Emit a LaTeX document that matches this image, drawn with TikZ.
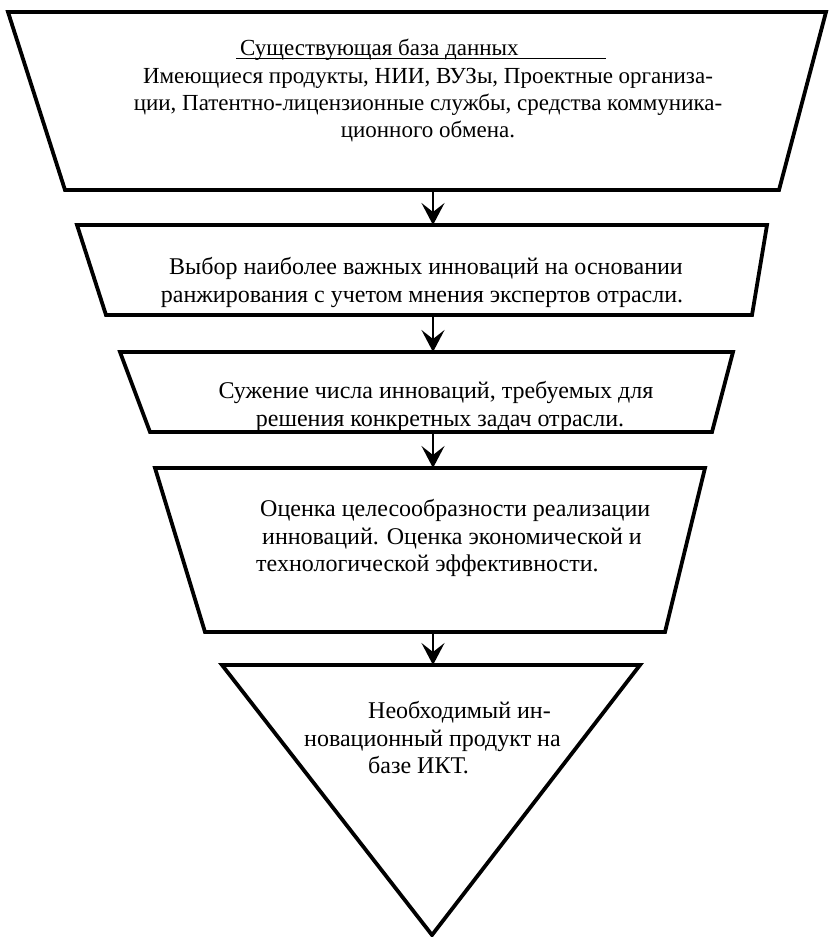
\documentclass[tikz,border=0pt]{standalone}
\usepackage{fontspec}
\setmainfont{Liberation Serif}
\usetikzlibrary{arrows.meta}
\tikzset{
  shapebox/.style={line width=3.8pt, line join=miter},
  flowarrow/.style={line width=2pt, -{Stealth[length=22pt,width=23pt,inset=9pt]}},
  txt/.style={inner sep=0pt, font=\fontsize{24}{27.5}\selectfont, align=center},
  txtl/.style={inner sep=0pt, font=\fontsize{24}{27.5}\selectfont, anchor=base west},
  txtt/.style={inner sep=0pt, font=\fontsize{23}{27.5}\selectfont, anchor=base}
}
\begin{document}
\begin{tikzpicture}[x=1pt,y=-1pt]
\useasboundingbox (0,0) rectangle (828,937);
% shapes
\draw[shapebox] (8,12) -- (826,12) -- (779,190) -- (65,190) -- cycle;
\draw[shapebox] (77,225) -- (767,225) -- (752,315) -- (106,315) -- cycle;
\draw[shapebox] (120,352) -- (733,352) -- (712,432) -- (150,432) -- cycle;
\draw[shapebox] (155,468) -- (705,468) -- (665,632) -- (205,632) -- cycle;
\draw[shapebox] (222,665) -- (640,665) -- (432,935) -- cycle;
% anchor coordinates
\coordinate (b1) at (433,190);
\coordinate (t2) at (433,225);
\coordinate (b2) at (433,315);
\coordinate (t3) at (433,352);
\coordinate (b3) at (433,432);
\coordinate (t4) at (433,468);
\coordinate (b4) at (433,632);
\coordinate (t5) at (433,665);
% connectors
\draw[flowarrow] (b1) -- (t2);
\draw[flowarrow] (b2) -- (t3);
\draw[flowarrow] (b3) -- (t4);
\draw[flowarrow] (b4) -- (t5);
% texts
\node[txtl, font=\fontsize{23}{27.5}\selectfont] (h1) at (240,55) {Существующая база данных};
\draw[line width=1pt] (236,58) -- (606,58);
\node[txtt] (l1) at (428,83) {Имеющиеся продукты, НИИ, ВУЗы, Проектные организа-};
\node[txtt] (l2) at (428,110) {ции, Патентно-лицензионные службы, средства коммуника-};
\node[txtt] (l3) at (428,137) {ционного обмена.};
\node[txt, anchor=base] (m1) at (426,274) {Выбор наиболее важных инноваций на основании};
\node[txt, anchor=base] (m2) at (422,302) {ранжирования с учетом мнения экспертов отрасли.};
\node[txt, anchor=base] (n1) at (436,398) {Сужение числа инноваций, требуемых для};
\node[txt, anchor=base] (n2) at (440,426) {решения конкретных задач отрасли.};
\node[txtl] (o1) at (260,516) {Оценка целесообразности реализации};
\node[txtl] (o2) at (262,544) {инноваций. Оценка экономической и};
\node[txtl] (o3) at (256,571) {технологической эффективности.};
\node[txtl] (p1) at (368,718) {Необходимый ин-};
\node[txtl] (p2) at (304,746) {новационный продукт на};
\node[txtl] (p3) at (368,773) {базе ИКТ.};
\end{tikzpicture}
\end{document}
